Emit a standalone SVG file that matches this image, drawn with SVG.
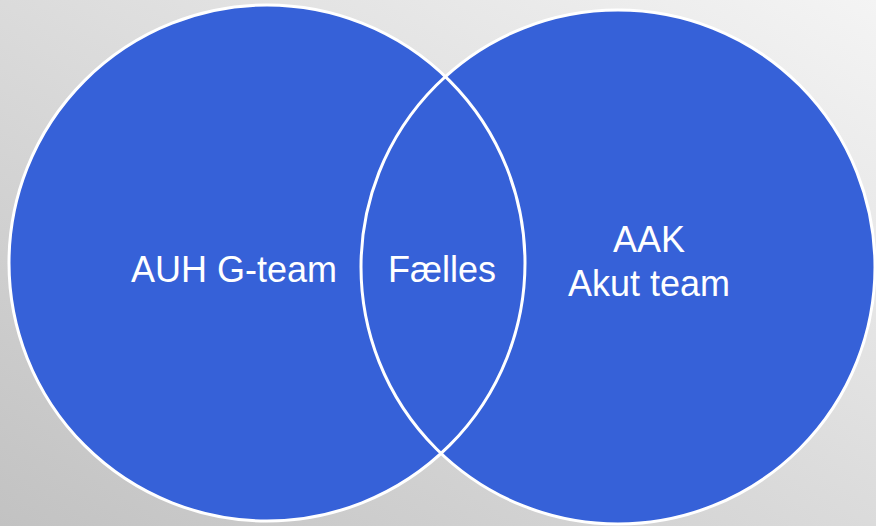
<svg xmlns="http://www.w3.org/2000/svg" width="876" height="526" viewBox="0 0 876 526">
<defs>
<linearGradient id="bg" x1="1" y1="0" x2="0" y2="1">
<stop offset="0" stop-color="#F4F4F4"/>
<stop offset="1" stop-color="#C2C2C2"/>
</linearGradient>
<style>
.fill{fill:#3661D8;}
.ring{fill:none;stroke:#FFFFFF;stroke-width:3;}
.lbl{font-family:"Liberation Sans",Arial,sans-serif;font-size:36px;fill:#FFFFFF;text-anchor:middle;}
</style>
</defs>
<rect width="876" height="526" fill="url(#bg)"/>
<g id="auh">
<circle class="fill" cx="267" cy="263" r="258"/>
</g>
<g id="aak">
<circle class="fill" cx="618" cy="267" r="257"/>
</g>
<g id="outlines">
<circle class="ring" cx="267" cy="263" r="258"/>
<circle class="ring" cx="618" cy="267" r="257"/>
</g>
<g id="labels">
<text class="lbl" x="234" y="282">AUH G-team</text>
<text class="lbl" x="442" y="282">Fælles</text>
<text class="lbl" x="649" y="252">AAK</text>
<text class="lbl" x="649" y="296">Akut team</text>
</g>
</svg>
